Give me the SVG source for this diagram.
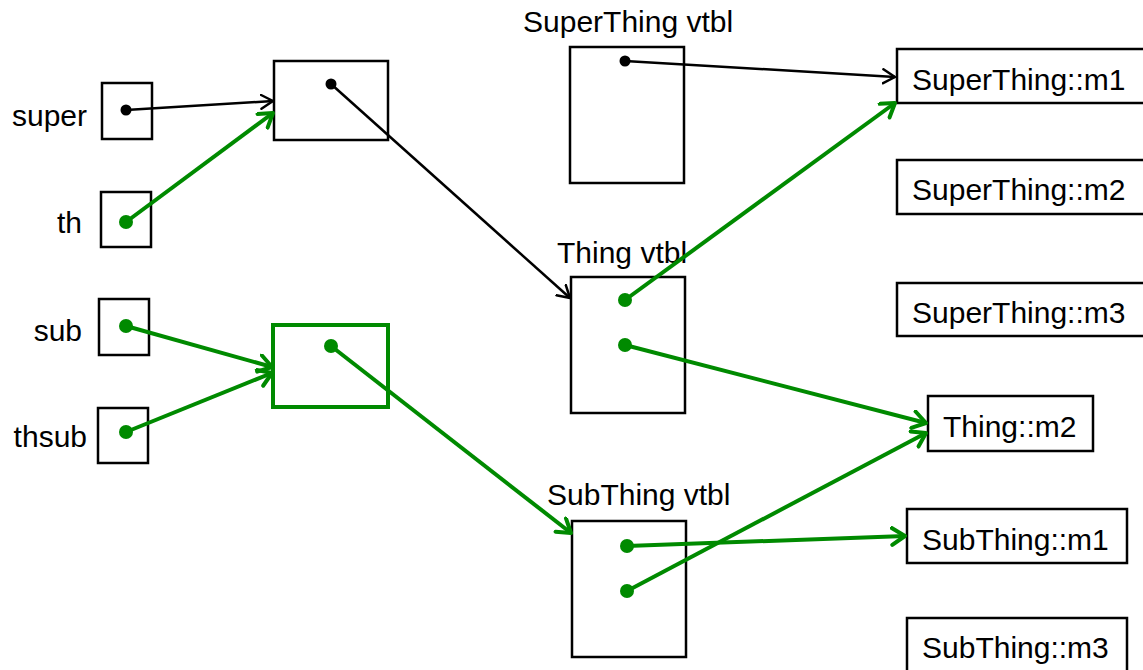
<svg xmlns="http://www.w3.org/2000/svg" width="1143" height="670" viewBox="0 0 1143 670">
<style>
text{font-family:"Liberation Sans",Arial,sans-serif;font-size:30px;fill:#000}
.box{fill:#fff;stroke:#000;stroke-width:2.5}
.gbox{fill:#fff;stroke:#008a00;stroke-width:4}
.bl{stroke:#000;stroke-width:2.5;fill:none}
.gl{stroke:#008a00;stroke-width:4;fill:none}
.bd{fill:#000}
.gd{fill:#008a00}
</style>
<defs>
<marker id="ab" markerUnits="userSpaceOnUse" markerWidth="20" markerHeight="20" refX="13" refY="8" orient="auto" viewBox="0 0 20 20">
<path d="M1,1 L13,8 L1,15" fill="none" stroke="#000" stroke-width="2.5" stroke-linecap="round" stroke-linejoin="round"/>
</marker>
<marker id="ag" markerUnits="userSpaceOnUse" markerWidth="24" markerHeight="24" refX="15" refY="10" orient="auto" viewBox="0 0 24 24">
<path d="M2,1.5 L15,10 L2,18.5" fill="none" stroke="#008a00" stroke-width="4" stroke-linecap="round" stroke-linejoin="round"/>
</marker>
</defs>

<g id="super">
<text x="87" y="126" text-anchor="end">super</text>
<rect class="box" x="102" y="83" width="50" height="56"/>
</g>
<g id="th">
<text x="82" y="233" text-anchor="end">th</text>
<rect class="box" x="101" y="192" width="50" height="55"/>
</g>
<g id="sub">
<text x="82" y="341" text-anchor="end">sub</text>
<rect class="box" x="99" y="299" width="50" height="56"/>
</g>
<g id="thsub">
<text x="87" y="447" text-anchor="end">thsub</text>
<rect class="box" x="98" y="408" width="50" height="55"/>
</g>
<g id="thing-obj">
<rect class="box" x="274" y="61" width="114" height="79"/>
</g>
<g id="subthing-obj">
<rect class="gbox" x="273" y="325" width="115" height="82"/>
</g>
<g id="superthing-vtbl">
<text x="523" y="32">SuperThing vtbl</text>
<rect class="box" x="570" y="47" width="114" height="136"/>
</g>
<g id="thing-vtbl">
<text x="557" y="263">Thing vtbl</text>
<rect class="box" x="571" y="277" width="114" height="136"/>
</g>
<g id="subthing-vtbl">
<text x="547" y="505">SubThing vtbl</text>
<rect class="box" x="572" y="521" width="114" height="136"/>
</g>
<g id="superthing-m1">
<rect class="box" x="897" y="49" width="260" height="54"/>
<text x="912" y="90">SuperThing::m1</text>
</g>
<g id="superthing-m2">
<rect class="box" x="897" y="160" width="260" height="54"/>
<text x="912" y="200">SuperThing::m2</text>
</g>
<g id="superthing-m3">
<rect class="box" x="897" y="283" width="260" height="53"/>
<text x="912" y="323">SuperThing::m3</text>
</g>
<g id="thing-m2">
<rect class="box" x="928" y="396" width="165" height="55"/>
<text x="943" y="437">Thing::m2</text>
</g>
<g id="subthing-m1">
<rect class="box" x="907" y="509" width="220" height="54"/>
<text x="922" y="550">SubThing::m1</text>
</g>
<g id="subthing-m3">
<rect class="box" x="907" y="618" width="220" height="54"/>
<text x="922" y="658">SubThing::m3</text>
</g>

<g id="connectors">
<line class="bl" x1="126" y1="110" x2="273" y2="101" marker-end="url(#ab)"/>
<line class="bl" x1="331" y1="84" x2="570" y2="298" marker-end="url(#ab)"/>
<line class="bl" x1="625" y1="61" x2="895" y2="77" marker-end="url(#ab)"/>
<line class="gl" x1="126" y1="222" x2="273" y2="113" marker-end="url(#ag)"/>
<line class="gl" x1="126" y1="326" x2="272" y2="367" marker-end="url(#ag)"/>
<line class="gl" x1="126" y1="432" x2="272" y2="373" marker-end="url(#ag)"/>
<line class="gl" x1="331" y1="346" x2="571" y2="533" marker-end="url(#ag)"/>
<line class="gl" x1="625" y1="300" x2="895" y2="103" marker-end="url(#ag)"/>
<line class="gl" x1="625" y1="345" x2="926" y2="423" marker-end="url(#ag)"/>
<line class="gl" x1="627" y1="591" x2="926" y2="433" marker-end="url(#ag)"/>
<line class="gl" x1="627" y1="546" x2="905" y2="536" marker-end="url(#ag)"/>
<circle class="bd" cx="126" cy="110" r="5.5"/>
<circle class="bd" cx="331" cy="84" r="5.5"/>
<circle class="bd" cx="625" cy="61" r="5.5"/>
<circle class="gd" cx="126" cy="222" r="7"/>
<circle class="gd" cx="126" cy="326" r="7"/>
<circle class="gd" cx="126" cy="432" r="7"/>
<circle class="gd" cx="331" cy="346" r="7"/>
<circle class="gd" cx="625" cy="300" r="7"/>
<circle class="gd" cx="625" cy="345" r="7"/>
<circle class="gd" cx="627" cy="546" r="7"/>
<circle class="gd" cx="627" cy="591" r="7"/>
</g>
</svg>
